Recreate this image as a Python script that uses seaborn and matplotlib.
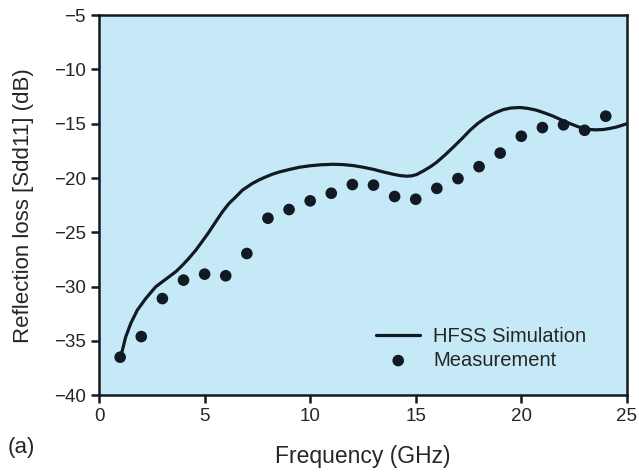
import seaborn as sns
import pandas as pd
import matplotlib.pyplot as plt

# values
meas_freq = list(range(1, 25))
meas_db = [-36.5, -34.6, -31.1, -29.4, -28.85, -29.0, -26.95, -23.7,
           -22.9, -22.1, -21.4, -20.6, -20.65, -21.7, -21.95, -20.95,
           -20.05, -18.95, -17.7, -16.15, -15.35, -15.1, -15.6, -14.3]

sim_freq = [1.0, 1.1, 1.26, 1.5, 1.81, 2.21, 2.68, 3.0, 3.31, 3.65, 3.95,
            4.25, 4.58, 4.9, 5.21, 5.5, 5.84, 6.15, 6.47, 6.8, 7.26, 7.6,
            7.89, 8.2, 8.52, 9.04, 9.5, 9.99, 10.5, 11.09, 11.55, 12.04,
            12.5, 13.0, 13.45, 13.93, 14.25, 14.57, 14.8, 15.04, 15.4, 15.7,
            15.99, 16.4, 16.78, 17.2, 17.57, 17.95, 18.36, 18.75, 19.14,
            19.5, 19.93, 20.3, 20.72, 21.1, 21.51, 21.9, 22.3, 22.7, 23.09,
            23.5, 23.88, 24.2, 24.51, 25.0]
sim_db = [-36.5, -35.9, -34.65, -33.4, -32.17, -31.1, -30.02, -29.55,
          -29.1, -28.6, -28.03, -27.4, -26.65, -25.8, -24.96, -24.1,
          -23.12, -22.35, -21.75, -21.1, -20.5, -20.15, -19.9, -19.65,
          -19.45, -19.2, -19.0, -18.87, -18.78, -18.73, -18.76, -18.85,
          -19.0, -19.2, -19.43, -19.65, -19.77, -19.83, -19.8, -19.68,
          -19.3, -18.95, -18.55, -17.85, -17.15, -16.35, -15.6, -14.95,
          -14.4, -14.0, -13.7, -13.55, -13.5, -13.58, -13.75, -14.0,
          -14.3, -14.65, -14.98, -15.28, -15.5, -15.56, -15.53, -15.43,
          -15.3, -15.0]

sim = pd.DataFrame({'Frequency': sim_freq, 'dB': sim_db})
meas = pd.DataFrame({'Frequency': meas_freq, 'dB': meas_db})

sns.set_style('ticks')
plt.rcParams['font.family'] = ['Liberation Sans', 'DejaVu Sans']

ink = '#111a22'
text_col = '#262626'

fig = plt.figure(figsize=[6.39, 4.75], dpi=100)
ax = fig.add_axes([0.155, 0.168, 0.826, 0.8])
ax.set_facecolor('#c6e9f8')

sns.lineplot(data=sim, x='Frequency', y='dB', color=ink, linewidth=2.3,
             label='HFSS Simulation', ax=ax, solid_joinstyle='round')
sns.scatterplot(data=meas, x='Frequency', y='dB', color=ink, s=70,
                edgecolor='none', label='Measurement', ax=ax)

ax.set_xlim(0, 25)
ax.set_ylim(-40, -5)
ax.set_xticks(range(0, 26, 5))
ax.set_yticks(range(-40, -4, 5))
ax.set_xlabel('Frequency (GHz)', color=text_col, fontsize=16.5, labelpad=14)
ax.set_ylabel('Reflection loss [Sdd11] (dB)', color=text_col, fontsize=16,
              labelpad=14)
ax.tick_params(direction='out', length=6, width=1.8, colors=ink,
               labelcolor=text_col, labelsize=13.5)
for sp in ax.spines.values():
    sp.set_linewidth(1.8)
    sp.set_color(ink)

ax.legend(loc='lower right', bbox_to_anchor=(0.958, 0.019), frameon=False,
          fontsize=14.5, handlelength=2.2, handletextpad=0.65,
          labelspacing=0.25, labelcolor=text_col)

fig.text(0.0125, 0.057, '(a)', fontsize=16, color=text_col, va='center')

plt.savefig('out.png', dpi=100)
